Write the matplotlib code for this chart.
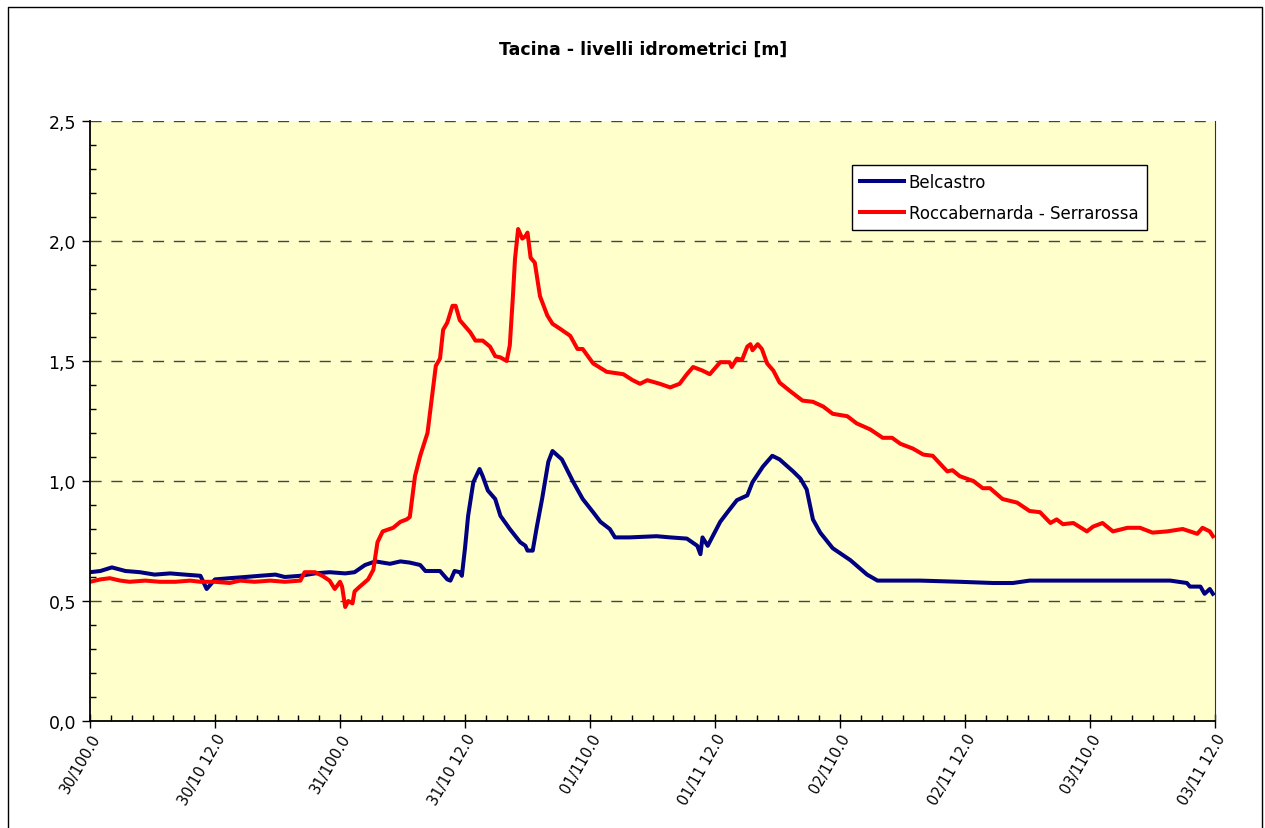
import matplotlib
matplotlib.use("Agg")
import matplotlib.pyplot as plt
from matplotlib.lines import Line2D
from matplotlib.ticker import MultipleLocator

TITLE = "Tacina - livelli idrometrici [m]"

# hours from 30/10 00:00
belcastro_h = [0.0, 1.0, 2.1, 3.4, 4.8, 6.2, 7.7, 9.1, 10.6, 11.2, 12.0, 13.4, 14.9, 16.3,
               17.8, 18.7, 20.2, 21.6, 23.0, 24.5, 25.4, 26.4, 27.4, 28.1, 28.8, 29.8,
               30.7, 31.7, 32.2, 33.6, 34.3, 34.6, 35.0, 35.5, 35.7, 36.0, 36.3, 36.8,
               37.4, 37.7, 38.2, 38.9, 39.4, 40.3, 41.3, 41.8, 42.0, 42.5, 42.9, 43.4,
               44.0, 44.4, 45.3, 46.4, 47.3, 48.3, 49.0, 49.9, 50.4, 51.8, 54.4, 55.7,
               57.3, 58.3, 58.6, 58.8, 59.3, 60.5, 61.2, 62.1, 63.1, 63.6, 64.6, 65.5,
               66.2, 67.5, 68.2, 68.8, 69.4, 70.1, 71.3, 73.0, 74.6, 75.6, 79.7, 83.5,
               86.7, 88.6, 90.2, 95.0, 98.9, 103.7, 105.3, 105.6, 106.6, 107.0, 107.5, 107.8]
belcastro_v = [0.62, 0.625, 0.64, 0.625, 0.62, 0.61, 0.615, 0.61, 0.605, 0.55, 0.59, 0.595,
               0.6, 0.605, 0.61, 0.60, 0.605, 0.615, 0.62, 0.615, 0.62, 0.65, 0.665, 0.66,
               0.655, 0.665, 0.66, 0.65, 0.625, 0.625, 0.59, 0.585, 0.625, 0.62, 0.605,
               0.72, 0.855, 0.995, 1.05, 1.02, 0.96, 0.925, 0.855, 0.80, 0.745, 0.73, 0.71,
               0.71, 0.81, 0.925, 1.08, 1.125, 1.09, 0.995, 0.925, 0.87, 0.83, 0.80, 0.765,
               0.765, 0.77, 0.765, 0.76, 0.73, 0.695, 0.765, 0.73, 0.83, 0.87, 0.92, 0.94,
               0.995, 1.06, 1.105, 1.09, 1.04, 1.01, 0.965, 0.84, 0.785, 0.72, 0.67, 0.61,
               0.585, 0.585, 0.58, 0.575, 0.575, 0.585, 0.585, 0.585, 0.585, 0.575, 0.56,
               0.56, 0.53, 0.55, 0.53]

rocca_h = [0.0, 1.0, 1.9, 2.9, 3.8, 5.3, 6.7, 8.2, 9.6, 10.6, 12.0, 13.4, 14.4, 15.8, 17.3,
           18.7, 20.2, 20.6, 21.6, 22.3, 23.0, 23.5, 24.0, 24.2, 24.5, 24.8, 25.2, 25.4,
           25.9, 26.7, 27.2, 27.6, 28.1, 29.1, 29.8, 30.4, 30.7, 31.2, 31.7, 32.4, 32.8,
           33.2, 33.6, 33.9, 34.3, 34.8, 35.1, 35.5, 35.8, 36.5, 37.0, 37.7, 38.4, 38.9,
           39.4, 40.0, 40.3, 40.6, 40.8, 41.1, 41.5, 41.8, 42.0, 42.3, 42.7, 43.2, 43.9,
           44.4, 45.1, 46.1, 46.8, 47.3, 47.8, 48.3, 49.6, 51.2, 52.1, 52.8, 53.5, 54.7,
           55.7, 56.6, 57.3, 57.9, 58.8, 59.5, 60.5, 61.4, 61.6, 62.1, 62.6, 63.1, 63.4,
           63.6, 64.1, 64.5, 65.0, 65.6, 66.2, 67.2, 68.4, 69.4, 70.4, 71.3, 72.7, 73.6,
           74.9, 76.1, 77.0, 77.8, 79.0, 80.0, 80.9, 82.3, 82.8, 83.5, 84.8, 85.7, 86.4,
           87.6, 89.0, 90.2, 91.2, 92.2, 92.8, 93.4, 94.4, 95.7, 96.3, 97.2, 98.2, 99.6,
           100.8, 102.0, 103.4, 104.9, 106.3, 106.8, 107.5, 107.8]
rocca_v = [0.58, 0.59, 0.595, 0.585, 0.58, 0.585, 0.58, 0.58, 0.585, 0.58, 0.58, 0.575,
           0.585, 0.58, 0.585, 0.58, 0.585, 0.62, 0.62, 0.605, 0.585, 0.55, 0.58, 0.56,
           0.475, 0.50, 0.49, 0.54, 0.56, 0.59, 0.63, 0.745, 0.79, 0.805, 0.83, 0.84, 0.85,
           1.02, 1.105, 1.20, 1.34, 1.48, 1.51, 1.63, 1.66, 1.73, 1.73, 1.67, 1.655, 1.62,
           1.585, 1.585, 1.56, 1.52, 1.515, 1.50, 1.565, 1.77, 1.925, 2.05, 2.01, 2.02,
           2.035, 1.93, 1.91, 1.77, 1.69, 1.655, 1.635, 1.605, 1.55, 1.55, 1.52, 1.49,
           1.455, 1.445, 1.42, 1.405, 1.42, 1.405, 1.39, 1.405, 1.445, 1.475, 1.46, 1.445,
           1.495, 1.495, 1.475, 1.51, 1.505, 1.56, 1.57, 1.545, 1.57, 1.55, 1.49, 1.46,
           1.41, 1.375, 1.335, 1.33, 1.31, 1.28, 1.27, 1.24, 1.215, 1.18, 1.18, 1.155,
           1.135, 1.11, 1.105, 1.04, 1.045, 1.02, 1.00, 0.97, 0.97, 0.925, 0.91, 0.875,
           0.87, 0.825, 0.84, 0.82, 0.825, 0.79, 0.81, 0.825, 0.79, 0.805, 0.805, 0.785,
           0.79, 0.80, 0.78, 0.805, 0.79, 0.77]

tick_hours = [0, 12, 24, 36, 48, 60, 72, 84, 96, 108]
tick_labels = ["30/100.0", "30/10 12.0", "31/100.0", "31/10 12.0", "01/110.0",
               "01/11 12.0", "02/110.0", "02/11 12.0", "03/110.0", "03/11 12.0"]

fig = plt.figure(figsize=(12.65, 8.29), dpi=100)

# outer chart border (Excel style)
fig.add_artist(Line2D([8 / 1265, 8 / 1265, 1262 / 1265, 1262 / 1265],
                      [0, 1 - 8 / 829, 1 - 8 / 829, 0],
                      transform=fig.transFigure, color="black", lw=1))

ax = fig.add_axes([90 / 1265, 1 - 722 / 829, 1125 / 1265, 600 / 829])
ax.set_facecolor("#FFFFCC")

ax.plot(belcastro_h, belcastro_v, color="#000080", lw=2.9, label="Belcastro",
        solid_joinstyle="round")
ax.plot(rocca_h, rocca_v, color="#FF0000", lw=2.9, label="Roccabernarda - Serrarossa",
        solid_joinstyle="round")

ax.set_xlim(0, 108)
ax.set_ylim(0, 2.5)

ax.set_yticks([0, 0.5, 1.0, 1.5, 2.0, 2.5])
ax.set_yticklabels(["0,0", "0,5", "1,0", "1,5", "2,0", "2,5"], fontsize=12.5)
ax.yaxis.set_minor_locator(MultipleLocator(0.1))
ax.set_xticks(tick_hours)
ax.set_xticklabels(tick_labels, rotation=60, ha="right", va="top",
                   rotation_mode="anchor", fontsize=10.5)
ax.xaxis.set_minor_locator(MultipleLocator(2))

ax.tick_params(axis="y", which="major", direction="out", length=6, width=1, pad=4)
ax.tick_params(axis="y", which="minor", direction="in", length=4, width=1)
ax.tick_params(axis="x", which="major", direction="inout", length=10, width=1, pad=2)
ax.tick_params(axis="x", which="minor", direction="in", length=4, width=1)

for y in [0.5, 1.0, 1.5, 2.0, 2.5]:
    ax.axhline(y, color="#444444", lw=1, dashes=(8, 7), zorder=0.5)

ax.spines["top"].set_visible(False)
ax.spines["right"].set_color("#333333")
ax.spines["left"].set_linewidth(1.3)
ax.spines["bottom"].set_linewidth(1.3)

fig.text(643 / 1265, 1 - 50 / 829, TITLE, ha="center", va="center",
         fontsize=12.5, fontweight="bold")

leg = ax.legend(loc="upper left", bbox_to_anchor=(762 / 1125, (722 - 166) / 600),
                fontsize=12, frameon=True, fancybox=False, edgecolor="black",
                framealpha=1, handlelength=2.6, borderpad=0.5, labelspacing=0.75,
                handletextpad=0.3, borderaxespad=0)
leg.get_frame().set_linewidth(1)

fig.savefig("out.png", dpi=100)
